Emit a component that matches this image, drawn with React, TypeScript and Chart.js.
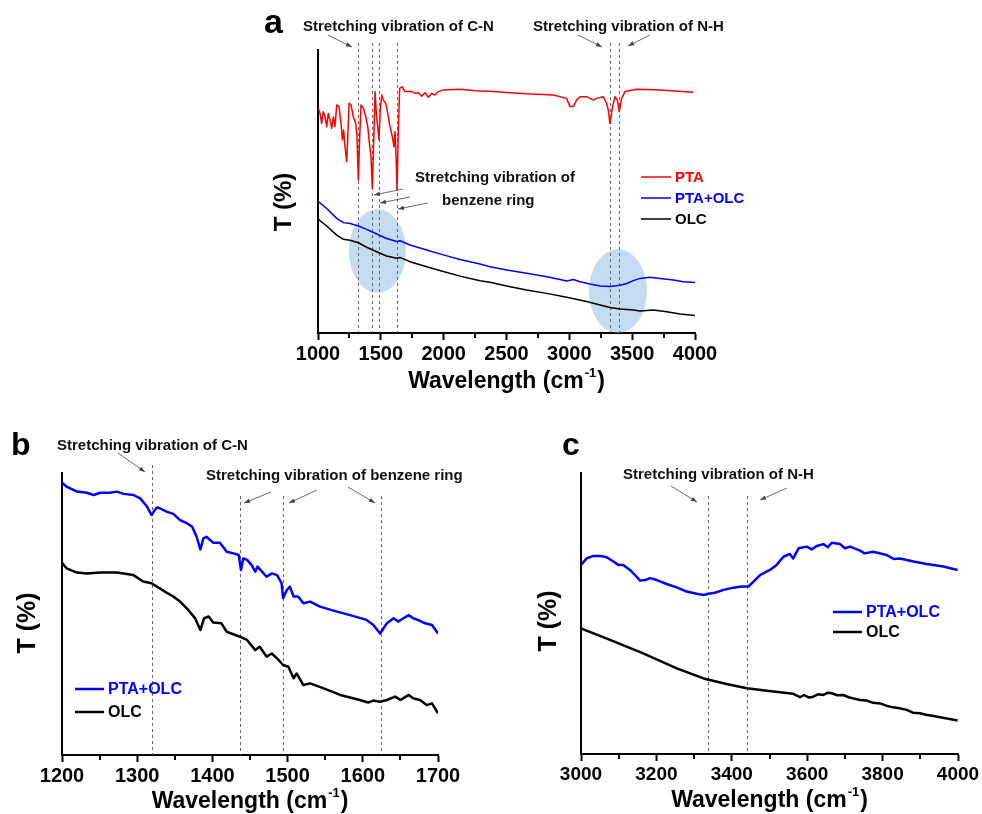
import React, { useEffect, useRef } from 'react';
import { Chart, registerables } from 'chart.js';

Chart.register(...registerables);

const FONT = "'Liberation Sans', Arial, Helvetica, sans-serif";
const PAGE_W = 982;
const PAGE_H = 814;
const Y_AXIS_W = 4;
const X_AXIS_H = 40;
const RED = '#ff0000';
const BLUE = '#0000ff';
const BLACK = '#000000';

// ---------- Panel a ----------
const aPtaWavenumber = [1003, 1016, 1029, 1042, 1056, 1069, 1082, 1095, 1109, 1122, 1135, 1149, 1167, 1183, 1194, 1204, 1215, 1228, 1236, 1247, 1263, 1281, 1300, 1310, 1321, 1332, 1342, 1361, 1380, 1396, 1409, 1422, 1432, 1440, 1454, 1464, 1475, 1485, 1496, 1507, 1520, 1539, 1555, 1573, 1591, 1605, 1613, 1621, 1629, 1639, 1650, 1671, 1692, 1746, 1772, 1798, 1825, 1852, 1878, 1905, 1931, 1957, 1997, 2130, 2250, 2395, 2500, 2660, 2780, 2872, 2978, 3005, 3032, 3058, 3085, 3137, 3191, 3217, 3270, 3297, 3310, 3323, 3344, 3363, 3382, 3397, 3416, 3443, 3535, 3721, 3986];
const aPtaT = [79.4, 77.6, 74.1, 78.2, 76.4, 72.9, 77.6, 75.3, 72.3, 76.4, 72.9, 80.6, 80.0, 74.1, 68.2, 71.7, 65.8, 60.5, 68.2, 81.2, 80.6, 76.4, 74.1, 69.4, 54.1, 69.4, 80.6, 79.4, 76.4, 72.9, 67.0, 62.3, 51.1, 62.3, 85.3, 77.6, 72.9, 68.2, 79.4, 84.1, 82.3, 81.2, 77.6, 72.9, 69.4, 65.8, 71.1, 62.3, 50.5, 71.7, 86.5, 87.0, 85.3, 85.3, 84.7, 84.9, 83.7, 84.9, 83.3, 84.7, 84.1, 85.3, 85.9, 86.1, 85.6, 85.3, 85.0, 84.5, 84.3, 84.1, 82.9, 80.0, 80.0, 82.3, 83.5, 83.5, 82.3, 82.9, 83.5, 81.1, 78.8, 74.1, 80.0, 83.5, 82.3, 78.2, 82.9, 85.3, 86.1, 85.9, 85.1];
const aHybridWavenumber = [1003, 1069, 1149, 1202, 1255, 1321, 1387, 1467, 1546, 1626, 1653, 1732, 1865, 1997, 2130, 2289, 2369, 2501, 2660, 2820, 2926, 2979, 3032, 3085, 3164, 3244, 3324, 3403, 3456, 3509, 3562, 3642, 3722, 3828, 3907, 4000];
const aHybridT = [46.4, 44.0, 40.5, 39.0, 38.7, 37.8, 36.6, 35.0, 33.4, 32.3, 32.6, 31.1, 29.3, 27.6, 26.0, 24.4, 23.4, 22.3, 21.1, 19.9, 18.9, 18.4, 18.9, 18.1, 17.3, 16.6, 16.4, 16.9, 17.5, 18.5, 19.3, 19.7, 19.3, 18.7, 18.1, 17.8];
const aOlcWavenumber = [1003, 1069, 1149, 1202, 1255, 1321, 1387, 1467, 1546, 1626, 1653, 1732, 1865, 1997, 2130, 2289, 2369, 2501, 2660, 2820, 2979, 3138, 3244, 3324, 3403, 3509, 3562, 3668, 3775, 3881, 4000];
const aOlcT = [40.2, 37.8, 34.6, 33.1, 32.8, 31.9, 30.3, 28.7, 27.2, 26.4, 26.7, 25.2, 23.4, 21.7, 20.1, 18.5, 17.9, 16.6, 15.2, 14.0, 12.6, 11.1, 9.9, 9.0, 8.5, 8.1, 7.8, 8.1, 7.5, 6.7, 6.2];
const aCnBenzeneLines = [1316, 1427, 1488, 1626];
const aNhLines = [3323, 3397];
const aEllipseCenterX = [1473, 3387];
const aEllipseCenterY = [29.0, 14.8];
const aEllipseHalfWidth = [227, 231];
const aEllipseHalfHeight = [14.8, 14.8];
const aSeriesLabels = ['PTA', 'PTA+OLC', 'OLC'];

// ---------- Panel b ----------
const bHybridWavenumber = [1200, 1206, 1220, 1233, 1242, 1251, 1264, 1273, 1282, 1295, 1304, 1313, 1319, 1326, 1330, 1339, 1348, 1357, 1366, 1373, 1379, 1384, 1388, 1392, 1401, 1410, 1419, 1428, 1435, 1438, 1441, 1446, 1452, 1457, 1460, 1466, 1472, 1479, 1486, 1492, 1494, 1499, 1503, 1508, 1514, 1521, 1530, 1543, 1561, 1583, 1605, 1614, 1623, 1632, 1641, 1647, 1654, 1661, 1667, 1676, 1683, 1692, 1700];
const bHybridT = [96.6, 95.2, 93.4, 93.0, 92.2, 93.0, 93.0, 93.4, 92.6, 92.2, 91.0, 88.1, 85.1, 87.8, 87.5, 86.3, 85.5, 83.3, 82.2, 81.0, 77.4, 72.9, 76.8, 77.4, 75.3, 75.3, 72.1, 71.5, 70.9, 65.6, 69.7, 69.2, 67.4, 65.0, 66.8, 65.0, 63.2, 64.4, 63.8, 60.9, 55.6, 58.5, 59.7, 56.2, 56.2, 53.8, 54.4, 52.6, 51.2, 49.6, 47.9, 46.1, 43.1, 46.7, 48.5, 47.3, 48.5, 49.6, 48.5, 47.6, 46.7, 46.1, 43.1];
const bOlcWavenumber = [1200, 1206, 1220, 1233, 1251, 1273, 1295, 1308, 1319, 1330, 1339, 1348, 1357, 1366, 1377, 1384, 1389, 1395, 1401, 1412, 1419, 1437, 1446, 1457, 1463, 1472, 1479, 1488, 1494, 1501, 1508, 1512, 1521, 1530, 1548, 1570, 1596, 1607, 1614, 1623, 1632, 1643, 1650, 1661, 1667, 1676, 1685, 1692, 1700];
const bOlcT = [68.2, 66.2, 64.7, 64.4, 64.7, 64.7, 63.8, 61.5, 60.9, 59.1, 57.6, 56.2, 54.4, 52.0, 48.5, 44.3, 48.5, 49.1, 47.0, 46.7, 43.7, 41.9, 40.8, 37.2, 38.4, 34.9, 36.0, 33.7, 31.9, 31.3, 27.2, 28.9, 24.8, 25.4, 23.6, 21.3, 19.5, 18.6, 19.3, 18.9, 19.5, 20.7, 19.5, 21.3, 20.1, 19.5, 17.7, 18.3, 14.8];
const bCnLines = [1320];
const bBenzeneLines = [1437, 1494, 1624];
const bSeriesLabels = ['PTA+OLC', 'OLC'];

// ---------- Panel c ----------
const cHybridWavenumber = [3000, 3015, 3033, 3050, 3068, 3086, 3099, 3112, 3130, 3143, 3157, 3170, 3183, 3201, 3227, 3254, 3280, 3307, 3325, 3338, 3355, 3378, 3404, 3426, 3444, 3453, 3475, 3501, 3519, 3537, 3554, 3563, 3577, 3599, 3612, 3625, 3643, 3655, 3665, 3687, 3700, 3714, 3740, 3752, 3775, 3811, 3830, 3846, 3882, 3917, 3961, 3999];
const cHybridT = [67.3, 69.6, 70.5, 70.5, 70.0, 68.5, 67.3, 67.3, 65.5, 63.7, 61.7, 61.9, 62.6, 61.9, 60.5, 59.3, 57.8, 57.0, 56.6, 57.0, 57.4, 58.4, 59.2, 59.6, 59.6, 60.7, 63.7, 65.5, 67.3, 70.2, 71.2, 69.6, 73.2, 73.8, 72.8, 74.0, 74.7, 73.6, 75.2, 74.7, 73.2, 73.8, 72.4, 71.4, 72.0, 70.8, 69.4, 69.6, 68.5, 67.6, 66.7, 65.5];
const cOlcWavenumber = [3000, 3077, 3165, 3254, 3325, 3386, 3440, 3493, 3563, 3581, 3592, 3605, 3616, 3630, 3643, 3655, 3665, 3680, 3696, 3710, 3722, 3740, 3758, 3775, 3793, 3810, 3828, 3845, 3864, 3880, 3899, 3915, 3935, 3999];
const cOlcT = [44.7, 40.6, 35.8, 30.5, 26.9, 24.9, 23.4, 22.5, 21.4, 20.2, 21.0, 20.1, 20.4, 21.3, 21.0, 21.8, 21.6, 20.9, 21.0, 20.2, 19.8, 19.2, 19.0, 18.2, 18.0, 17.2, 16.6, 16.3, 15.7, 14.7, 14.5, 14.0, 13.5, 11.9];
const cNhLines = [3338, 3439];
const cSeriesLabels = ['PTA+OLC', 'OLC'];

const zip = (xs: number[], ys: number[]) => xs.map((x, i) => ({ x, y: ys[i] }));

function drawArrow(ctx: CanvasRenderingContext2D, x1: number, y1: number, x2: number, y2: number) {
  ctx.save();
  ctx.strokeStyle = '#444';
  ctx.fillStyle = '#444';
  ctx.lineWidth = 0.8;
  ctx.setLineDash([]);
  ctx.beginPath();
  ctx.moveTo(x1, y1);
  ctx.lineTo(x2, y2);
  ctx.stroke();
  const ang = Math.atan2(y2 - y1, x2 - x1);
  const L = 6;
  const W = 2.2;
  const bx = x2 - L * Math.cos(ang);
  const by = y2 - L * Math.sin(ang);
  ctx.beginPath();
  ctx.moveTo(x2, y2);
  ctx.lineTo(bx + W * Math.sin(ang), by - W * Math.cos(ang));
  ctx.lineTo(bx - W * Math.sin(ang), by + W * Math.cos(ang));
  ctx.closePath();
  ctx.fill();
  ctx.restore();
}

function drawText(ctx: CanvasRenderingContext2D, text: string, x: number, y: number, size: number, color = '#111', align: CanvasTextAlign = 'left', baseline: CanvasTextBaseline = 'alphabetic') {
  ctx.save();
  ctx.font = `bold ${size}px ${FONT}`;
  ctx.fillStyle = color;
  ctx.textAlign = align;
  ctx.textBaseline = baseline;
  ctx.fillText(text, x, y);
  ctx.restore();
}

function drawYTitle(ctx: CanvasRenderingContext2D, cx: number, cy: number, size: number) {
  ctx.save();
  ctx.translate(cx, cy);
  ctx.rotate(-Math.PI / 2);
  ctx.font = `bold ${size}px ${FONT}`;
  ctx.fillStyle = '#000';
  ctx.textAlign = 'center';
  ctx.textBaseline = 'middle';
  ctx.fillText('T (%)', 0, 0);
  ctx.restore();
}

function drawXTitle(ctx: CanvasRenderingContext2D, cx: number, baseline: number, size: number) {
  ctx.save();
  ctx.fillStyle = '#000';
  ctx.textBaseline = 'alphabetic';
  const main = 'Wavelength (cm';
  const sup = '-1';
  const close = ')';
  const big = `bold ${size}px ${FONT}`;
  const small = `bold ${Math.round(size * 0.55)}px ${FONT}`;
  ctx.font = big;
  const w1 = ctx.measureText(main).width;
  const w3 = ctx.measureText(close).width;
  ctx.font = small;
  const w2 = ctx.measureText(sup).width;
  let x = cx - (w1 + w2 + w3 + 2) / 2;
  ctx.font = big;
  ctx.fillText(main, x, baseline);
  x += w1 + 1;
  ctx.font = small;
  ctx.fillText(sup, x, baseline - size * 0.5);
  x += w2 + 1;
  ctx.font = big;
  ctx.fillText(close, x, baseline);
  ctx.restore();
}

function drawDashed(ctx: CanvasRenderingContext2D, chart: any, values: number[], top: number) {
  const xs = chart.scales.x;
  const bottom = chart.chartArea.bottom;
  ctx.save();
  ctx.strokeStyle = '#555';
  ctx.lineWidth = 0.9;
  ctx.setLineDash([3, 3]);
  values.forEach((v) => {
    const x = Math.round(xs.getPixelForValue(v)) + 0.5;
    ctx.beginPath();
    ctx.moveTo(x, top);
    ctx.lineTo(x, bottom);
    ctx.stroke();
  });
  ctx.restore();
}

function drawMinorTicks(ctx: CanvasRenderingContext2D, chart: any, min: number, max: number, step: number) {
  const xs = chart.scales.x;
  const bottom = chart.chartArea.bottom;
  ctx.save();
  ctx.strokeStyle = '#000';
  ctx.lineWidth = 2;
  for (let v = min + step / 2; v < max; v += step) {
    const x = Math.round(xs.getPixelForValue(v));
    ctx.beginPath();
    ctx.moveTo(x, bottom);
    ctx.lineTo(x, bottom + 5);
    ctx.stroke();
  }
  ctx.restore();
}

function drawLegend(ctx: CanvasRenderingContext2D, labels: string[], colors: string[], x1: number, x2: number, ys: number[], size: number, lw: number) {
  labels.forEach((lab, i) => {
    ctx.save();
    ctx.strokeStyle = colors[i];
    ctx.lineWidth = lw;
    ctx.beginPath();
    ctx.moveTo(x1, ys[i]);
    ctx.lineTo(x2, ys[i]);
    ctx.stroke();
    ctx.restore();
    drawText(ctx, lab, x2 + 4, ys[i] + 1, size, colors[i], 'left', 'middle');
  });
}

interface PanelSpec {
  area: { left: number; top: number; right: number; bottom: number };
  xMin: number;
  xMax: number;
  xStep: number;
  lineWidth: number;
  tickSize: number;
  datasets: { label: string; data: { x: number; y: number }[]; color: string }[];
  before?: (ctx: CanvasRenderingContext2D, chart: any) => void;
  after: (ctx: CanvasRenderingContext2D, chart: any) => void;
}

function makeConfig(spec: PanelSpec): any {
  const { area } = spec;
  return {
    type: 'line',
    data: {
      datasets: spec.datasets.map((d) => ({
        label: d.label,
        data: d.data,
        borderColor: d.color,
        backgroundColor: d.color,
        borderWidth: spec.lineWidth,
        borderJoinStyle: 'round',
        pointRadius: 0,
        fill: false,
        tension: 0,
      })),
    },
    options: {
      responsive: false,
      animation: false,
      events: [],
      layout: {
        padding: {
          left: area.left - Y_AXIS_W,
          top: area.top,
          right: PAGE_W - area.right,
          bottom: PAGE_H - area.bottom - X_AXIS_H,
        },
      },
      plugins: { legend: { display: false }, tooltip: { enabled: false } },
      scales: {
        x: {
          type: 'linear',
          min: spec.xMin,
          max: spec.xMax,
          afterFit: (s: any) => {
            s.height = X_AXIS_H;
          },
          ticks: {
            stepSize: spec.xStep,
            autoSkip: false,
            maxRotation: 0,
            padding: 2,
            color: '#000',
            font: { family: FONT, size: spec.tickSize, weight: 'bold' },
            callback: (v: any) => String(v),
          },
          grid: { display: true, drawOnChartArea: false, drawTicks: true, tickLength: 7, tickWidth: 2, tickColor: '#000' },
          border: { display: true, width: 2, color: '#000' },
        },
        y: {
          type: 'linear',
          min: 0,
          max: 100,
          afterFit: (s: any) => {
            s.width = Y_AXIS_W;
          },
          ticks: { display: false },
          grid: { display: false },
          border: { display: true, width: 2, color: '#000' },
        },
      },
    },
    plugins: [
      {
        id: 'deco',
        beforeDatasetsDraw(chart: any) {
          if (spec.before) spec.before(chart.ctx, chart);
        },
        afterDraw(chart: any) {
          drawMinorTicks(chart.ctx, chart, spec.xMin, spec.xMax, spec.xStep);
          spec.after(chart.ctx, chart);
        },
      },
    ],
  };
}

const panelA: PanelSpec = {
  area: { left: 318, top: 50, right: 695, bottom: 333 },
  xMin: 1000,
  xMax: 4000,
  xStep: 500,
  lineWidth: 1.5,
  tickSize: 20,
  datasets: [
    { label: aSeriesLabels[0], data: zip(aPtaWavenumber, aPtaT), color: RED },
    { label: aSeriesLabels[1], data: zip(aHybridWavenumber, aHybridT), color: BLUE },
    { label: aSeriesLabels[2], data: zip(aOlcWavenumber, aOlcT), color: BLACK },
  ],
  before: (ctx, chart) => {
    const xs = chart.scales.x;
    const ys = chart.scales.y;
    ctx.save();
    ctx.fillStyle = 'rgba(150, 190, 226, 0.55)';
    aEllipseCenterX.forEach((cxv, i) => {
      const cx = xs.getPixelForValue(cxv);
      const cy = ys.getPixelForValue(aEllipseCenterY[i]);
      const rx = Math.abs(xs.getPixelForValue(cxv + aEllipseHalfWidth[i]) - cx);
      const ry = Math.abs(ys.getPixelForValue(aEllipseCenterY[i] + aEllipseHalfHeight[i]) - cy);
      ctx.beginPath();
      ctx.ellipse(cx, cy, rx, ry, 0, 0, Math.PI * 2);
      ctx.fill();
    });
    ctx.restore();
    drawDashed(ctx, chart, [...aCnBenzeneLines, ...aNhLines], 43);
  },
  after: (ctx, chart) => {
    drawText(ctx, 'a', 264, 33, 34, '#000');
    drawText(ctx, 'Stretching vibration of C-N', 303, 31, 15);
    drawText(ctx, 'Stretching vibration of N-H', 533, 31, 15);
    drawArrow(ctx, 328, 35, 352, 47);
    drawArrow(ctx, 578, 35, 602, 47);
    drawArrow(ctx, 650, 35, 628, 46);
    drawText(ctx, 'Stretching vibration of', 415, 182, 15);
    drawText(ctx, 'benzene ring', 442, 205, 15);
    drawArrow(ctx, 403, 189, 374, 195);
    drawArrow(ctx, 410, 197, 380, 203);
    drawArrow(ctx, 428, 203, 398, 209);
    drawLegend(ctx, aSeriesLabels, [RED, BLUE, BLACK], 641, 671, [177, 198, 219], 15, 1.5);
    drawYTitle(ctx, 284, 202, 24);
    drawXTitle(ctx, (chart.chartArea.left + chart.chartArea.right) / 2, 388, 23);
  },
};

const panelB: PanelSpec = {
  area: { left: 62, top: 473, right: 438, bottom: 755 },
  xMin: 1200,
  xMax: 1700,
  xStep: 100,
  lineWidth: 2.5,
  tickSize: 20,
  datasets: [
    { label: bSeriesLabels[0], data: zip(bHybridWavenumber, bHybridT), color: BLUE },
    { label: bSeriesLabels[1], data: zip(bOlcWavenumber, bOlcT), color: BLACK },
  ],
  before: (ctx, chart) => {
    drawDashed(ctx, chart, bCnLines, 465);
    drawDashed(ctx, chart, bBenzeneLines, 496);
  },
  after: (ctx, chart) => {
    drawText(ctx, 'b', 11, 455, 32, '#000');
    drawText(ctx, 'Stretching vibration of C-N', 57, 450, 15);
    drawArrow(ctx, 118, 453, 145, 472);
    drawText(ctx, 'Stretching vibration of benzene ring', 206, 480, 15);
    drawArrow(ctx, 271, 492, 244, 503);
    drawArrow(ctx, 317, 490, 289, 503);
    drawArrow(ctx, 348, 487, 375, 503);
    drawLegend(ctx, bSeriesLabels, [BLUE, BLACK], 75, 104, [689, 712], 16, 2.5);
    drawYTitle(ctx, 28, 623, 25);
    drawXTitle(ctx, (chart.chartArea.left + chart.chartArea.right) / 2, 808, 23);
  },
};

const panelC: PanelSpec = {
  area: { left: 581, top: 473, right: 958, bottom: 754 },
  xMin: 3000,
  xMax: 4000,
  xStep: 200,
  lineWidth: 2.5,
  tickSize: 19,
  datasets: [
    { label: cSeriesLabels[0], data: zip(cHybridWavenumber, cHybridT), color: BLUE },
    { label: cSeriesLabels[1], data: zip(cOlcWavenumber, cOlcT), color: BLACK },
  ],
  before: (ctx, chart) => {
    drawDashed(ctx, chart, cNhLines, 496);
  },
  after: (ctx, chart) => {
    drawText(ctx, 'c', 562, 455, 32, '#000');
    drawText(ctx, 'Stretching vibration of N-H', 623, 479, 15);
    drawArrow(ctx, 671, 486, 697, 502);
    drawArrow(ctx, 787, 488, 760, 500);
    drawLegend(ctx, cSeriesLabels, [BLUE, BLACK], 833, 862, [612, 632], 16, 2.5);
    drawYTitle(ctx, 549, 621, 25);
    drawXTitle(ctx, (chart.chartArea.left + chart.chartArea.right) / 2, 807, 23);
  },
};

function Panel({ spec }: { spec: PanelSpec }) {
  const ref = useRef<HTMLCanvasElement | null>(null);
  useEffect(() => {
    if (!ref.current) return;
    const chart = new Chart(ref.current, makeConfig(spec));
    return () => chart.destroy();
  }, [spec]);
  return (
    <canvas
      ref={ref}
      width={PAGE_W}
      height={PAGE_H}
      style={{ position: 'absolute', left: 0, top: 0, width: PAGE_W, height: PAGE_H }}
    />
  );
}

export default function App() {
  return (
    <div style={{ position: 'absolute', left: 0, top: 0, width: PAGE_W, height: PAGE_H, background: '#fff', overflow: 'hidden' }}>
      <Panel spec={panelA} />
      <Panel spec={panelB} />
      <Panel spec={panelC} />
    </div>
  );
}
